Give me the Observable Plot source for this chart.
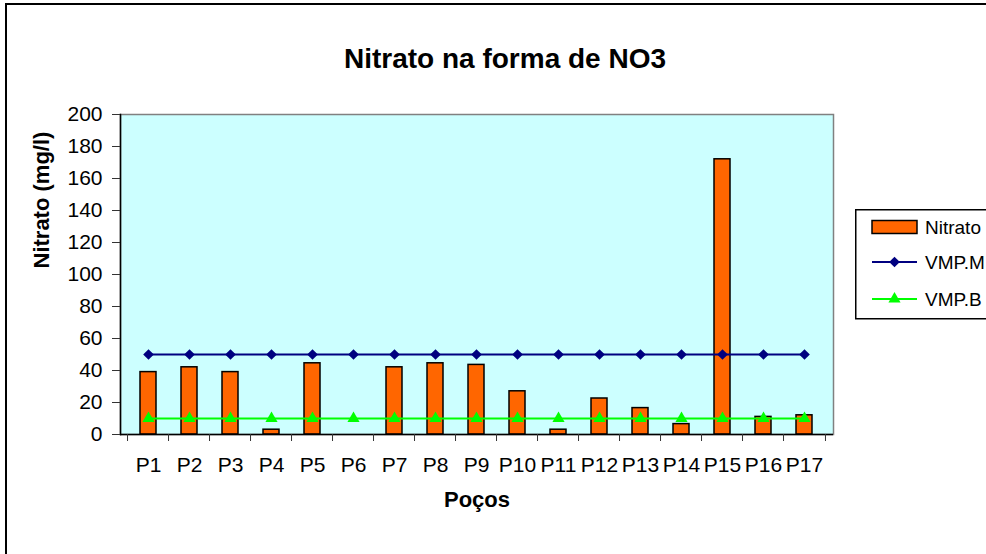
<!DOCTYPE html>
<html>
<head>
<meta charset="utf-8">
<script src="https://cdn.jsdelivr.net/npm/d3@7"></script>
<script src="https://cdn.jsdelivr.net/npm/@observablehq/plot@0.6"></script>
<style>
  html, body { margin: 0; padding: 0; background: #fff; overflow: hidden; }
  body { width: 986px; height: 554px; position: relative; font-family: "Liberation Sans", Arial, sans-serif; }
  #outer { position: absolute; left: 5px; top: 3px; width: 1100px; height: 700px; border: 2px solid #000; box-sizing: border-box; pointer-events: none; }
  #chart { position: absolute; left: 0; top: 0; }
  #legend { position: absolute; left: 855px; top: 209px; }
</style>
</head>
<body>
<div id="chart"></div>
<div id="outer"></div>
<div id="legend"></div>
<script>
const categories = ["P1","P2","P3","P4","P5","P6","P7","P8","P9","P10","P11","P12","P13","P14","P15","P16","P17"];
const nitrato = [39, 42, 39, 3, 44.5, 0, 42, 44.5, 43.5, 27, 3, 22.5, 16.5, 6.5, 172, 11, 12];
const vmpM = [50,50,50,50,50,50,50,50,50,50,50,50,50,50,50,50,50];
const vmpB = [10,10,10,10,10,10,10,10,10,10,10,10,10,10,10,10,10];
const yTicks = [0,20,40,60,80,100,120,140,160,180,200];
const seriesNames = ["Nitrato", "VMP.M", "VMP.B"];
const titleText = "Nitrato na forma de NO3";
const xTitle = "Poços";
const yTitle = "Nitrato (mg/l)";

const data = categories.map((c, i) => ({name: c, nitrato: nitrato[i], m: vmpM[i], b: vmpB[i]}));

const W = 986, H = 554;
const mL = 120, mR = 986 - 833, mT = 114, mB = 554 - 434;
const step = (W - mL - mR) / categories.length;
const font = "Liberation Sans, Arial, sans-serif";

const chart = Plot.plot({
  width: W,
  height: H,
  marginLeft: mL,
  marginRight: mR,
  marginTop: mT,
  marginBottom: mB,
  style: {fontFamily: font, background: "transparent", color: "#000"},
  x: {domain: categories, paddingInner: 0.6, paddingOuter: 0.3, label: null},
  y: {domain: [0, 200], label: null},
  marks: [
    Plot.frame({fill: "#ccffff", stroke: "#808080", strokeWidth: 1.5}),
    Plot.barY(data, {x: "name", y: "nitrato", fill: "#ff6600", stroke: "#000", strokeWidth: 1.5}),
    Plot.lineY(data, {x: "name", y: "m", stroke: "#000080", strokeWidth: 2}),
    Plot.dot(data, {x: "name", y: "m", symbol: "diamond2", r: 4.8, fill: "#000080", stroke: "none"}),
    Plot.lineY(data, {x: "name", y: "b", stroke: "#00ff00", strokeWidth: 2}),
    Plot.dot(data, {x: "name", y: "b", symbol: "triangle2", r: 5.8, fill: "#00ff00", stroke: "none"}),
    Plot.ruleY([0], {stroke: "#000", strokeWidth: 1.5}),
    Plot.frame({anchor: "left", stroke: "#000", strokeWidth: 1.5}),
    Plot.axisY({ticks: yTicks, tickSize: 8, tickPadding: 10, fontSize: 21, label: null, stroke: "#333"}),
    Plot.axisX({tickSize: 7, tickFormat: () => "", dx: -step / 2, label: null, stroke: "#333"}),
    Plot.axisX({ticks: [categories[categories.length - 1]], tickSize: 7, tickFormat: () => "", dx: step / 2, label: null, stroke: "#333"}),
    Plot.axisX({tickSize: 0, tickPadding: 23, fontSize: 21, label: null}),
    Plot.text([xTitle], {frameAnchor: "bottom", dy: 72, fontSize: 22, fontWeight: "bold", fill: "#000"}),
    Plot.text([yTitle], {frameAnchor: "left", dx: -79, dy: -6, rotate: -90, fontSize: 22, fontWeight: "bold", fill: "#000"}),
    Plot.text([titleText], {frameAnchor: "top", dx: 28, dy: -66, fontSize: 28, fontWeight: "bold", fill: "#000"})
  ]
});
document.getElementById("chart").appendChild(chart);

// Legend
const lg = d3.select("#legend").append("svg").attr("width", 200).attr("height", 112);
lg.append("rect").attr("x", 0.75).attr("y", 0.75).attr("width", 300).attr("height", 109).attr("fill", "#fff").attr("stroke", "#000").attr("stroke-width", 1.5);
const rows = [18, 53, 90];
lg.append("rect").attr("x", 17).attr("y", rows[0] - 6.5).attr("width", 45).attr("height", 13).attr("fill", "#ff6600").attr("stroke", "#000").attr("stroke-width", 1.5);
lg.append("line").attr("x1", 17).attr("x2", 62).attr("y1", rows[1]).attr("y2", rows[1]).attr("stroke", "#000080").attr("stroke-width", 2);
lg.append("path").attr("d", d3.symbol(d3.symbolDiamond2, Math.PI * 4.8 * 4.8)()).attr("transform", `translate(39.5,${rows[1]})`).attr("fill", "#000080");
lg.append("line").attr("x1", 17).attr("x2", 62).attr("y1", rows[2]).attr("y2", rows[2]).attr("stroke", "#00ff00").attr("stroke-width", 2);
lg.append("path").attr("d", d3.symbol(d3.symbolTriangle2, Math.PI * 5.8 * 5.8)()).attr("transform", `translate(39.5,${rows[2]})`).attr("fill", "#00ff00");
seriesNames.forEach((n, i) => {
  lg.append("text").attr("x", 70).attr("y", rows[i]).attr("dy", "0.35em").attr("font-size", 19).attr("font-family", font).attr("fill", "#000").text(n);
});
</script>
</body>
</html>
